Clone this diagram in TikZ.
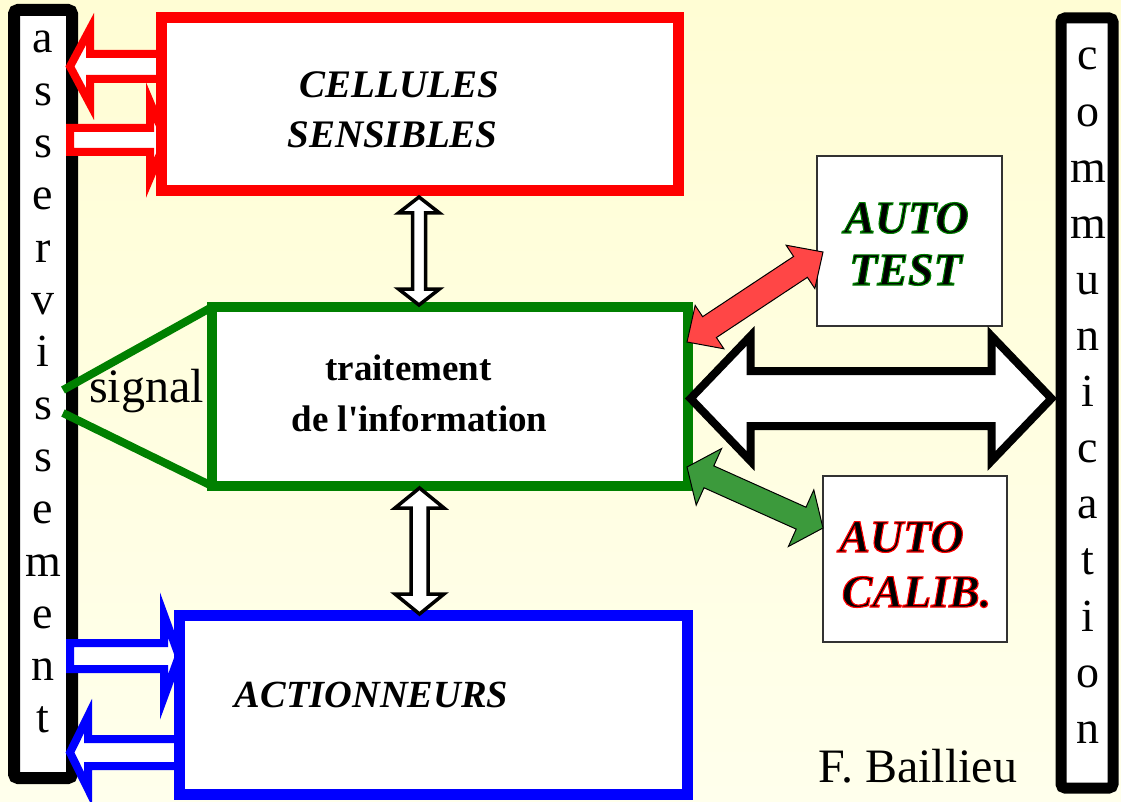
\documentclass[tikz,border=0pt]{standalone}
\usepackage{fontspec}
\setmainfont{Liberation Serif}[Ligatures=TeXOff]
\usetikzlibrary{calc}

\definecolor{bgtop}{RGB}{255,253,212}
\definecolor{bgbot}{RGB}{255,255,236}
\definecolor{pred}{RGB}{255,0,0}
\definecolor{pgreen}{RGB}{0,128,0}
\definecolor{pblue}{RGB}{0,0,255}
\definecolor{arrred}{RGB}{255,70,70}
\definecolor{arrgreen}{RGB}{60,154,60}
\definecolor{thinbox}{RGB}{50,50,50}

% black letters whose edge is stroked in a colour (#1 = r g b of the stroke)
\newcommand\outlined[2]{{\addfontfeature{FakeBold=2.5}\special{pdf:bcolor [0 0 0] [#1]}#2\special{pdf:ecolor}}}

% double block arrow: #1 options, #2 end A, #3 end B, #4 shaft half width, #5 head half width, #6 head length
\newcommand\dblarrow[6]{%
 \draw[#1] (#2) -- ($(#2)!#6!(#3)!#5!90:(#3)$) -- ($(#2)!#6!(#3)!#4!90:(#3)$)
  -- ($(#3)!#6!(#2)!#4!-90:(#2)$) -- ($(#3)!#6!(#2)!#5!-90:(#2)$) -- (#3)
  -- ($(#3)!#6!(#2)!#5!90:(#2)$) -- ($(#3)!#6!(#2)!#4!90:(#2)$)
  -- ($(#2)!#6!(#3)!#4!-90:(#3)$) -- ($(#2)!#6!(#3)!#5!-90:(#3)$) -- cycle;}
% single block arrow: #1 options, #2 tail, #3 tip, #4 shaft half width, #5 head half width, #6 head length
\newcommand\sglarrow[6]{%
 \draw[#1] ($(#2)!#4!90:(#3)$) -- ($(#3)!#6!(#2)!#4!-90:(#2)$) -- ($(#3)!#6!(#2)!#5!-90:(#2)$)
  -- (#3) -- ($(#3)!#6!(#2)!#5!90:(#2)$) -- ($(#3)!#6!(#2)!#4!90:(#2)$)
  -- ($(#2)!#4!-90:(#3)$) -- cycle;}

\begin{document}
\begin{tikzpicture}[x=1pt,y=-1pt,
  bar/.style={draw=black,line width=12,fill=white,rounded corners=4,inner sep=0},
  mainbox/.style={line width=11,fill=white,inner sep=0},
  smallbox/.style={draw=thinbox,line width=1.3,fill=white,inner sep=0},
  lett/.style={font=\fontsize{46}{50}\selectfont,inner sep=0,anchor=base},
  bi/.style={font=\fontsize{39}{44}\selectfont\bfseries\itshape,inner sep=0,anchor=base},
  bu/.style={font=\fontsize{37}{42}\selectfont\bfseries,inner sep=0,anchor=base},
  auto/.style={font=\fontsize{46}{50}\selectfont\bfseries\itshape,inner sep=0,anchor=base},
  wharrow/.style={draw=black,line width=3.5,fill=white,miter limit=10},
  redarr/.style={draw=pred,line width=8,fill=white,miter limit=10},
  bluarr/.style={draw=pblue,line width=8,fill=white,miter limit=10},
]
\useasboundingbox (0,0) rectangle (1121,802);
\shade[top color=bgtop,bottom color=bgbot] (0,0) rectangle (1121,802);

% side bars
\node[bar,minimum width=58,minimum height=768] (lbar) at (43,394) {};
\node[bar,line width=11,minimum width=52,minimum height=770] (rbar) at (1087,403) {};

% arrows between servo bar and boxes
\coordinate (a1t) at (161,66.5);  \coordinate (a1h) at (70,66.5);
\coordinate (a2t) at (70,140);    \coordinate (a2h) at (166,140);
\coordinate (b1t) at (70,656);    \coordinate (b1h) at (179,656);
\coordinate (b2t) at (179,752.5); \coordinate (b2h) at (70,752.5);
\sglarrow{redarr}{a1t}{a1h}{12.5pt}{37.5pt}{20pt}
\sglarrow{redarr}{a2t}{a2h}{12pt}{38pt}{16pt}
\sglarrow{bluarr}{b1t}{b1h}{13pt}{41pt}{15pt}
\sglarrow{bluarr}{b2t}{b2h}{13.5pt}{36.5pt}{18pt}

% signal funnel
\coordinate (sigtop) at (63,390);
\coordinate (sigbot) at (63,413);

% main boxes
\node[mainbox,draw=pred,minimum width=517,minimum height=173] (cell) at (419.5,104.5) {};
\draw[pgreen,line width=8] (212,307) -- (sigtop);
\draw[pgreen,line width=8] (212,486) -- (sigbot);
\node[mainbox,draw=pgreen,line width=10,minimum width=476,minimum height=179] (trait) at (450,396.5) {};
\node[mainbox,draw=pblue,minimum width=508,minimum height=179] (act) at (433,704.5) {};

% auto boxes
\node[smallbox,minimum width=185,minimum height=170] (atest) at (909.5,241) {};
\node[smallbox,minimum width=184,minimum height=166] (acalib) at (915,559) {};

% vertical white double arrows
\coordinate (v1a) at (419,197);   \coordinate (v1b) at (419,305);
\coordinate (v2a) at (419.5,488); \coordinate (v2b) at (419.5,614);
\dblarrow{wharrow}{v1a}{v1b}{6.5pt}{20.5pt}{16pt}
\dblarrow{wharrow}{v2a}{v2b}{8.5pt}{24.5pt}{20pt}

% big communication arrow
\coordinate (ca) at (690.5,398.5); \coordinate (cb) at (1051.5,398.5);
\dblarrow{draw=black,line width=8,fill=white,miter limit=10}{ca}{cb}{27.5pt}{62.5pt}{60pt}

% diagonal arrows
\coordinate (ra) at (687,342); \coordinate (rb) at (823,252);
\coordinate (ga) at (687,467); \coordinate (gb) at (823,528);
\dblarrow{draw=black,line width=1,fill=arrred}{ra}{rb}{12.5pt}{26pt}{27pt}
\dblarrow{draw=black,line width=1,fill=arrgreen}{ga}{gb}{12pt}{31pt}{24pt}

% bar letters
\foreach \c [count=\i] in {a,s,s,e,r,v,i,s,s,e,m,e,n,t}
  \node[lett] (la\i) at ({43},{53+(\i-1)*52.3}) {\c};
\foreach \c [count=\i] in {c,o,m,m,u,n,i,c,a,t,i,o,n}
  \node[lett] (ra\i) at ({1088},{70+(\i-1)*56.1}) {\c};

% texts
\node[bi] (t1) at (399.5,98) {CELLULES};
\node[bi] (t2) at (392.5,148) {SENSIBLES};
\node[bu] (t3) at (408.5,380) {traitement};
\node[bu] (t4) at (419.5,431) {de l'information};
\node[bi,font=\fontsize{38.4}{44}\selectfont\bfseries\itshape] (t5) at (371.5,707) {ACTIONNEURS};
\node[lett,font=\fontsize{48}{52}\selectfont] (sig) at (146.5,402) {signal};
\node[lett,font=\fontsize{48}{52}\selectfont,anchor=base west] (auth) at (818,782) {F. Baillieu};
\node[auto] (at1) at (906.5,233) {\outlined{0 0.5 0}{AUTO}};
\node[auto] (at2) at (905.5,285) {\outlined{0 0.5 0}{TEST}};
\node[auto] (ac1) at (901.5,552) {\outlined{1 0 0}{AUTO}};
\node[auto] (ac2) at (916.5,607) {\outlined{1 0 0}{CALIB.}};
\end{tikzpicture}
\end{document}
